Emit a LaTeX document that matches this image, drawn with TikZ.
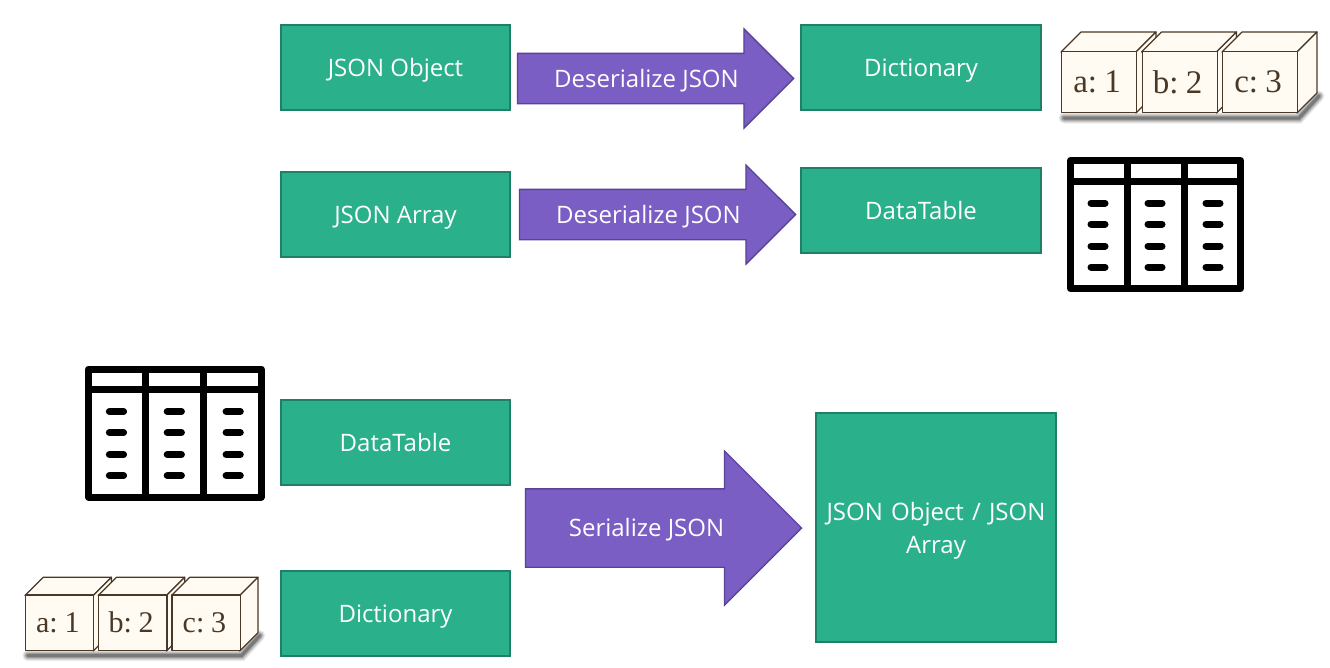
\documentclass[tikz,border=0pt]{standalone}
\usepackage{fontspec}
\setmainfont{Open Sans}
\newfontfamily\cubefont{Liberation Serif}
\usetikzlibrary{shapes.arrows}
\definecolor{boxteal}{HTML}{2BB08C}
\definecolor{boxedge}{HTML}{1F8067}
\definecolor{arrowfill}{HTML}{7B5EC4}
\definecolor{arrowedge}{HTML}{5A4396}
\definecolor{cubefill}{HTML}{FFFBF2}
\definecolor{cubeedge}{HTML}{4A3826}
\tikzset{
  typebox/.style={draw=boxedge,fill=boxteal,line width=1.3pt,text=white,align=center,inner sep=0pt,
    font=\fontsize{24}{33}\selectfont},
  flowarrow/.style={single arrow,draw=arrowedge,fill=arrowfill,line width=1.3pt,text=white,inner sep=0pt,
    single arrow tip angle=90,single arrow head indent=0pt,font=\fontsize{24}{27}\selectfont},
  cubeline/.style={draw=cubeedge,line width=1.2pt,line join=round},
  pics/cuberow/.style={code={
    % soft shadow under the row
    \foreach \w/\o in {11/.07,9/.09,7/.12,5/.16,3/.24}
      \draw[line width=\w pt,black,opacity=\o,line cap=round] (3,5) -- (238,5) -- (258,-17);
    \foreach \i/\lab in {0/a: 1,1/b: 2,2/c: 3} {
      \begin{scope}[xshift=80.5*\i pt]
        \draw[cubeline,fill=cubefill] (0,-61) -- (20,-81) -- (95,-81) -- (75,-61) -- cycle;
        \draw[cubeline,fill=cubefill] (75,0) -- (95,-20) -- (95,-81) -- (75,-61) -- cycle;
        \node[cubeline,fill=cubefill,minimum width=75pt,minimum height=61pt,inner sep=0pt,anchor=south west,
          font=\cubefont\fontsize{33}{36}\selectfont,text=cubeedge] (-c\i) at (0,0) {\spaceskip=.14em \lab\hspace*{4pt}};
      \end{scope}
    }
  }},
  pics/tableicon/.style={code={
    \draw[line width=7pt,line join=round] (3.5,3.5) rectangle (173.5,131.5);
    \draw[line width=7pt] (3.5,24) -- (173.5,24);
    \foreach \x in {60,117} \draw[line width=7pt] (\x,3.5) -- (\x,131.5);
    \foreach \x in {31,88,146}
      \foreach \y in {46,67,89,110}
        \draw[line width=7pt,line cap=round] (\x-7,\y) -- (\x+7,\y);
  }}
}
\begin{document}
\begin{tikzpicture}[x=1pt,y=-1pt]
  \useasboundingbox (0,0) rectangle (1330,667);
  % top rows
  \node[typebox,minimum width=229pt,minimum height=85pt,text height=17pt,text depth=0pt] (jsonobj) at (395.5,67.5) {JSON Object};
  \node[typebox,minimum width=240pt,minimum height=85pt,text height=17pt,text depth=0pt] (dict) at (921,67.5) {Dictionary};
  \node[typebox,minimum width=229pt,minimum height=85pt,text height=17pt,text depth=0pt] (jsonarr) at (395.5,214.5) {JSON Array};
  \node[typebox,minimum width=240pt,minimum height=85pt,text height=17pt,text depth=0pt] (dt) at (921,210.5) {DataTable};
  \node[flowarrow,minimum height=276pt,minimum width=98pt,single arrow head extend=24.5pt,text height=33pt,text depth=16pt] (deobj) at (643,78.5) {\hspace*{7pt}Deserialize JSON};
  \node[flowarrow,minimum height=276pt,minimum width=98pt,single arrow head extend=24.5pt,text height=33pt,text depth=16pt] (dearr) at (645,214.5) {\hspace*{7pt}Deserialize JSON};
  \pic (cubestop) at (1061,113) {cuberow};
  \pic (tabletop) at (1067,157) {tableicon};
  % bottom part
  \node[typebox,minimum width=229pt,minimum height=85pt,text height=17pt,text depth=0pt] (dtin) at (395.5,442.5) {DataTable};
  \node[typebox,minimum width=229pt,minimum height=85pt,text height=17pt,text depth=0pt] (dictin) at (395.5,613.5) {Dictionary};
  \node[typebox,minimum width=240pt,minimum height=229pt,text depth=0pt] (jsonout) at (936,527.5) {\spaceskip=.34em JSON Object / JSON\\Array};
  \node[flowarrow,minimum height=276pt,minimum width=153pt,single arrow head extend=38pt,text height=47pt,text depth=30pt] (ser) at (644,528) {\hspace*{5pt}Serialize JSON};
  \pic[xscale=1.015] (tablebot) at (85,365.5) {tableicon};
  \pic[scale=.91,transform shape] (cubesbot) at (25,651) {cuberow};
\end{tikzpicture}
\end{document}
